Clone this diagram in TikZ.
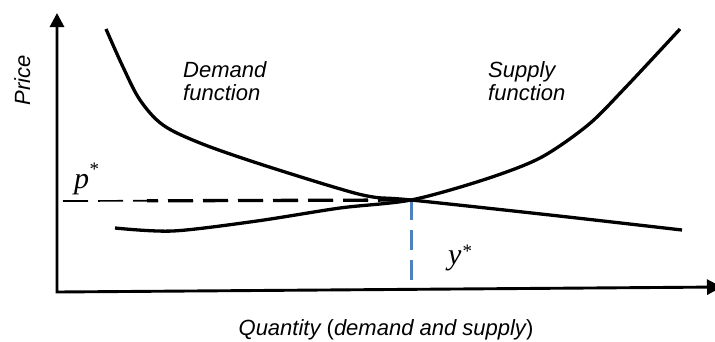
\documentclass[tikz,border=0pt]{standalone}
\usepackage{fontspec}
\setmainfont{Liberation Sans}
\newfontfamily\tmsfont{Liberation Serif}
\usetikzlibrary{arrows.meta}
\definecolor{qblue}{HTML}{4F81BD}
\begin{document}
\begin{tikzpicture}[x=1pt,y=-1pt,
  curve/.style={line width=3.3pt},
  axisline/.style={line width=2.9pt},
  lbl/.style={font=\fontsize{22}{26}\selectfont\itshape, inner sep=0pt},
  star/.style={font=\fontsize{30}{32}\selectfont\tmsfont\itshape, inner sep=0pt},
  pdash/.style={dash pattern=on 25pt off 10pt},
  ydash/.style={qblue, line width=3pt, dash pattern=on 20pt off 10pt}]
\useasboundingbox (0,0) rectangle (715,341);
% axes
\coordinate (ytop) at (57,13);
\coordinate (O) at (57,292);
\coordinate (xend) at (722,287);
\draw[axisline, {Triangle[length=14pt,width=14pt]}-{Triangle[length=15pt,width=15pt]}] (ytop) -- (O) -- (xend);
% equilibrium
\coordinate (E) at (411,200);
\coordinate (pstart) at (63,201);
\coordinate (pthick) at (147,200.8);
\coordinate (ybot) at (411,283);
\draw[line width=1.7pt, pdash] (pstart) -- (E);
\draw[line width=3.3pt, pdash, dash phase=14pt] (pthick) -- (E);
\draw[ydash] (E) -- (ybot);
% demand
\draw[curve] plot[smooth, tension=0.55] coordinates {(106,29) (123,67) (140,100) (163,125) (200,143) (257,163) (337,188) (373,197) (411,200) (550,215) (682,230)};
% supply
\draw[curve] plot[smooth, tension=0.5] coordinates {(115,228) (173,231) (257,221) (340,208) (411,200) (483,180) (540,158) (588,125) (625,88) (680,29)};
% labels
\node[lbl, anchor=base west] (dem1) at (183,77) {Demand};
\node[lbl, anchor=base west] (dem2) at (183,100) {function};
\node[lbl, anchor=base west] (sup1) at (488,77) {Supply};
\node[lbl, anchor=base west] (sup2) at (488,100) {function};
\node[lbl, anchor=base, rotate=90] (price) at (30,80) {Price};
\node[lbl, anchor=base] (qty) at (386,335) {Quantity \upshape(\itshape demand and supply\upshape)};
\node[star, anchor=base west] (pstar) at (74,188) {p\kern0.5pt\raisebox{13pt}{\upshape\fontsize{19}{19}\selectfont *}};
\node[star, anchor=base west] (ystar) at (448,264) {y\kern1pt\raisebox{7pt}{\upshape\fontsize{19}{19}\selectfont *}};
\end{tikzpicture}
\end{document}
